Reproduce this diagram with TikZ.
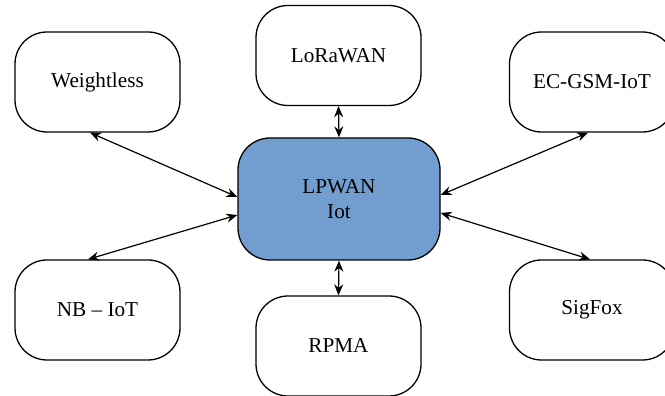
\documentclass[tikz,border=0pt]{standalone}
\usepackage{fontspec}
\setmainfont{Liberation Serif}
\usetikzlibrary{arrows.meta}
\definecolor{lpblue}{RGB}{114,157,207}
\tikzset{
  tech/.style={draw, rounded corners=16pt, minimum width=82.5pt, minimum height=50pt, line width=0.65pt, align=center, font=\fontsize{10.6}{12.6}\selectfont},
  link/.style={{Stealth[length=5.5pt,width=4.5pt]}-{Stealth[length=5.5pt,width=4.5pt]}, line width=0.6pt}
}
\begin{document}
\begin{tikzpicture}[x=0.5pt,y=0.5pt]
    \useasboundingbox (0,0) rectangle (665,396);
    \clip (0,0) rectangle (665,396);
    \node[tech, fill=lpblue, minimum width=101pt, minimum height=61pt] (lpwan) at (339,197) {LPWAN\\Iot};
    \node[tech] (wl) at (97.5,314) {Weightless};
    \node[tech] (lora) at (338.5,340.5) {LoRaWAN};
    \node[tech] (ec) at (592,314) {EC-GSM-IoT};
    \node[tech] (nb) at (97.5,86) {NB -- IoT};
    \node[tech] (rpma) at (338.5,50) {RPMA};
    \node[tech] (sf) at (592,86) {SigFox};
    \draw[link] ([xshift=-3.75pt]wl.south) -- ([yshift=1pt]lpwan.west);
    \draw[link] ([xshift=-4.75pt]nb.north) -- ([yshift=-8pt]lpwan.west);
    \draw[link] ([xshift=-2pt]ec.south) -- ([yshift=2pt]lpwan.east);
    \draw[link] ([xshift=-1pt]sf.north) -- ([yshift=-7pt]lpwan.east);
    \draw[link] (lora.south) -- (lpwan.north);
    \draw[link] (lpwan.south) -- (rpma.north);
\end{tikzpicture}
\end{document}
